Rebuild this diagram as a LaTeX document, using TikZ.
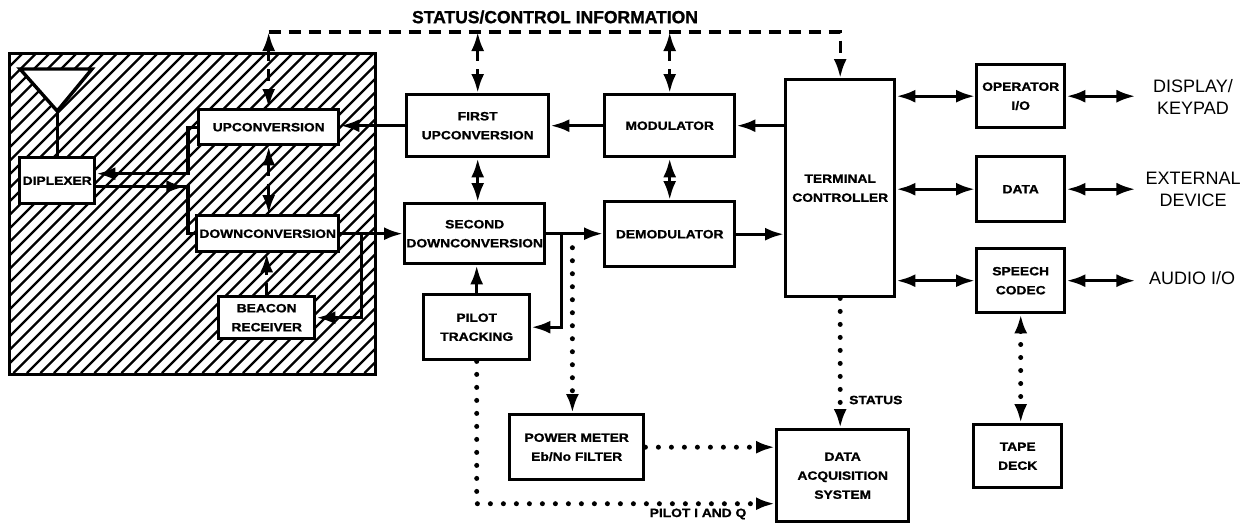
\documentclass[tikz,border=0pt]{standalone}
\usepackage{fontspec}
\setmainfont{Liberation Sans}
\newfontfamily\bx[FakeStretch=1.15,FakeBold=1.2]{Liberation Sans}
\newfontfamily\hx[FakeBold=1.2]{Liberation Sans}
\usetikzlibrary{arrows.meta,calc}
\begin{document}
\begin{tikzpicture}[x=1pt,y=-1pt,
  box/.style={draw, line width=3.4pt, fill=white, align=center, inner sep=0pt, anchor=north west,
    font=\bx\bfseries\fontsize{12}{19}\selectfont},
  sm/.style={font=\bx\bfseries\fontsize{12}{14}\selectfont, inner sep=0pt},
  lbl/.style={font=\fontsize{18}{22}\selectfont, align=center, inner sep=0pt},
  ln/.style={line width=3.4pt},
  arr/.style={ln, -{Latex[length=19pt,width=13pt]}},
  darr/.style={ln, {Latex[length=19pt,width=13pt]}-{Latex[length=19pt,width=13pt]}},
  dsh/.style={dash pattern=on 12pt off 8pt},
  dot/.style={line cap=round, line width=5pt, dash pattern=on 0pt off 13pt},
  hatch/.style={line width=2.3pt}]
\useasboundingbox (0,0) rectangle (1246,522);

% hatched RF area
\begin{scope}
  \clip (8,52) rectangle (374,373);
  \foreach \i in {-26,...,30} \draw[hatch] (\i*13.5,373) -- ++(340,-340);
\end{scope}
\node[draw, line width=3.4pt, anchor=north west, minimum width=366, minimum height=321, inner sep=0pt] (rf) at (8,52) {};

% boxes
\node[box,minimum width=75,minimum height=46] (dip) at (18,156) {DIPLEXER};
\node[box,minimum width=140,minimum height=35] (up) at (197,108) {UPCONVERSION};
\node[box,minimum width=142,minimum height=36] (down) at (195,214) {DOWNCONVERSION};
\node[box,minimum width=96,minimum height=42] (beacon) at (217,295) {BEACON\\RECEIVER};
\node[box,minimum width=142,minimum height=62] (fup) at (405,93) {FIRST\\UPCONVERSION};
\node[box,minimum width=140,minimum height=60] (sdown) at (403,202) {SECOND\\DOWNCONVERSION};
\node[box,minimum width=130,minimum height=62] (mod) at (603,93) {MODULATOR};
\node[box,minimum width=130,minimum height=65] (demod) at (603,200) {DEMODULATOR};
\node[box,minimum width=109,minimum height=217] (tc) at (784,78) {TERMINAL\\CONTROLLER};
\node[box,minimum width=88,minimum height=63] (opio) at (975,63) {OPERATOR\\I/O};
\node[box,minimum width=88,minimum height=65] (data) at (975,155) {DATA};
\node[box,minimum width=88,minimum height=64] (speech) at (975,247) {SPEECH\\CODEC};
\node[box,minimum width=106,minimum height=65] (pilot) at (422,293) {PILOT\\TRACKING};
\node[box,minimum width=134,minimum height=65] (pm) at (508,413) {POWER METER\\Eb/No FILTER};
\node[box,minimum width=132,minimum height=92] (daq) at (775,428) {DATA\\ACQUISITION\\SYSTEM};
\node[box,minimum width=88,minimum height=63] (tape) at (972,423) {TAPE\\DECK};

% antenna
\coordinate (apex) at ($(dip.north)+(0,-45)$);
\draw[ln, fill=white, line join=miter] (20,69) -- (92,69) -- (apex) -- cycle;
\draw[ln] (apex) -- (dip.north);

% labels
\node[font=\hx\bfseries\fontsize{17.5}{20}\selectfont, inner sep=0pt] (hdr) at (555,17) {STATUS/CONTROL INFORMATION};
\node[lbl] (kpl) at (1193,97) {DISPLAY/\\KEYPAD};
\node[lbl] (edl) at (1193,189) {EXTERNAL\\DEVICE};
\node[lbl] (aul) at (1192,278) {AUDIO I/O};
\node[sm, anchor=west] (stl) at (849,400) {STATUS};
\node[sm] (piq) at (698,514) {PILOT I AND Q};

% status/control bus
\coordinate (busL) at ($(up.north)+(0,-76)$);
\draw[ln,dsh,arr] (busL) -| (tc.north);
\draw[ln,dsh,darr] (busL) -- (up.north);
\draw[ln,dsh,darr] (fup.north |- busL) -- (fup.north);
\draw[ln,dsh,darr] (mod.north |- busL) -- (mod.north);

% vertical control links
\draw[ln,dsh,darr] (up.south) -- (up.south |- down.north);
\draw[ln,dsh,arr] (beacon.north) -- (beacon.north |- down.south);
\draw[ln,dsh,darr] (fup.south) -- (fup.south |- sdown.north);
\draw[ln,dsh,darr] (mod.south) -- (mod.south |- demod.north);

% transmit chain
\draw[arr] (mod.east -| tc.west) -- (mod.east);
\draw[arr] (mod.west) -- (mod.west -| fup.east);
\draw[arr] (fup.west) -- (fup.west -| up.east);
\draw[arr] (up.west) -- ++(-9,0) |- ($(dip.east)+(0,-7)$);

% receive chain
\draw[ln] ($(dip.east)+(0,6)$) -| ($(down.west)+(-7,0)$) -- (down.west);
\draw[arr] ($(dip.east)+(0,6)$) -- ++(89,0);
\draw[arr] (down.east) -- (down.east -| sdown.west);
\coordinate (b1) at ($(down.east)+(21,0)$);
\draw[arr] (b1) |- (beacon.east);
\draw[arr] (sdown.east) -- (sdown.east -| demod.west);
\coordinate (b2) at ($(sdown.east)+(15,0)$);
\draw[arr] (b2) |- (pilot.east);
\draw[arr] (demod.east) -- (demod.east -| tc.west);
\draw[arr] (pilot.north) -- (pilot.north |- sdown.south);

% dotted measurement links
\coordinate (b3) at ($(sdown.east)+(26,14)$);
\draw[arr,dot] (b3) -- (b3 |- pm.north);
\draw[arr,dot] (pilot.south) |- ($(daq.west)+(0,28)$);
\draw[arr,dot] (pm.east) -- (pm.east -| daq.west);
\draw[arr,dot] (tc.south) -- (tc.south |- daq.north);
\draw[darr,dot] (speech.south) -- (speech.south |- tape.north);

% terminal controller I/O
\draw[darr] (opio.west -| tc.east) -- (opio.west);
\draw[darr] (data.west -| tc.east) -- (data.west);
\draw[darr] (speech.west -| tc.east) -- (speech.west);
\coordinate (kp) at ($(opio.east)+(69,0)$);
\coordinate (ed) at ($(data.east)+(69,0)$);
\coordinate (au) at ($(speech.east)+(69,0)$);
\draw[darr] (opio.east) -- (kp);
\draw[darr] (data.east) -- (ed);
\draw[darr] (speech.east) -- (au);
\end{tikzpicture}
\end{document}
